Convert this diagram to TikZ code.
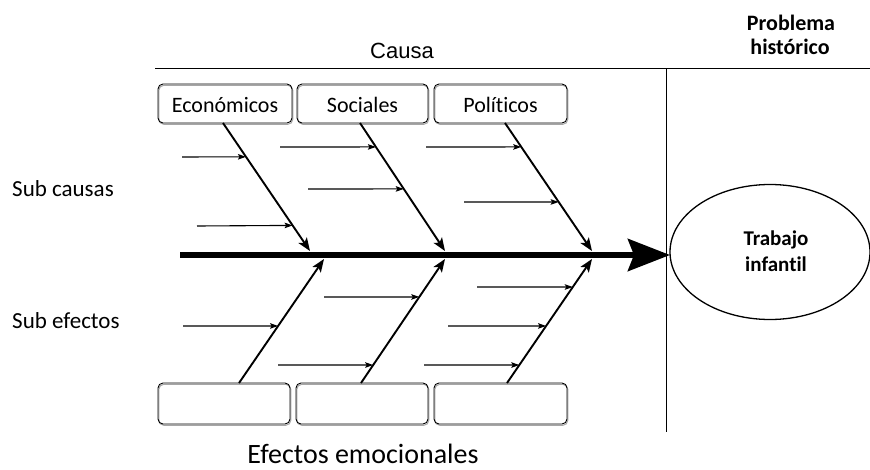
\documentclass[tikz,border=0pt]{standalone}
\usepackage{fontspec}
\setmainfont{Carlito}[Ligatures=NoCommon]
\newfontfamily\arialf{Liberation Sans}
\usetikzlibrary{arrows.meta,shapes.geometric,calc}
\begin{document}
\begin{tikzpicture}[x=1pt,y=-1pt,
  shade box/.style={preaction={draw,gray!70,line width=1pt,transform canvas={shift={(0.8pt,-1.3pt)}}}},
  catbox/.style={draw,shade box,rounded corners=5pt,line width=0.9pt,minimum height=39pt,inner sep=0pt,
     text height=18pt,text depth=1pt,font=\fontsize{22}{24}\selectfont},
  effbox/.style={draw,shade box,rounded corners=5pt,line width=0.9pt,minimum height=41pt,minimum width=132pt,inner sep=0pt},
  diag/.style={line width=1.9pt,-{Stealth[length=13pt,width=10pt,inset=3pt]}},
  subarr/.style={line width=1.1pt,-{Stealth[length=8pt,width=5.5pt,inset=1.5pt]}},
  frame/.style={line width=1pt},
  lbl/.style={font=\fontsize{23}{25}\selectfont,anchor=base west,inner sep=0pt}
]
\useasboundingbox (0,0) rectangle (870,469);
\fill[white] (0,0) rectangle (870,469);

% header
\node[font=\arialf\fontsize{22}{24}\selectfont,anchor=base,inner sep=0pt] (causa) at (402,58) {Causa};
\node[font=\bfseries\fontsize{22}{24}\selectfont,anchor=base,inner sep=0pt] (prob) at (791,30) {Problema};
\node[font=\bfseries\fontsize{22}{24}\selectfont,anchor=base,inner sep=0pt] (hist) at (790,54) {histórico};
\coordinate (tl) at (155,68);
\coordinate (tr) at (870,68);
\coordinate (vb) at (666,432);
\draw[frame] (tl) -- (tr);
\draw[frame] (tl -| vb) -- (vb);

% side labels
\node[lbl] (subc) at (12,196) {Sub causas};
\node[lbl] (sube) at (12,328) {Sub efectos};

% category boxes
\node[catbox,minimum width=134pt] (eco) at (225,103.5) {Económicos};
\node[catbox,minimum width=131pt] (soc) at (362.5,103.5) {Sociales};
\node[catbox,minimum width=133pt] (pol) at (500.5,103.5) {Políticos};

% effect boxes
\node[effbox] (ef1) at (224,403.5) {};
\node[effbox] (ef2) at (362,403.5) {};
\node[effbox,minimum width=133pt] (ef3) at (500.5,403.5) {};

\node[font=\fontsize{28}{30}\selectfont,anchor=base,inner sep=0pt] (efect) at (363,463) {Efectos emocionales};

% problem ellipse
\node[draw,ellipse,line width=1.3pt,minimum width=200pt,minimum height=135pt,inner sep=0pt] (trab) at (770,252) {};
\node[font=\bfseries\fontsize{21}{26}\selectfont,anchor=base,inner sep=0pt] (trab1) at (776,245) {Trabajo};
\node[font=\bfseries\fontsize{21}{26}\selectfont,anchor=base,inner sep=0pt] (trab2) at (776,271) {infantil};

% spine
\coordinate (sp0) at (180,255);
\coordinate (sp1) at (670,255);
\draw[line width=6pt,-{Stealth[length=42pt,width=32pt,inset=6pt]}] (sp0) -- (sp1);

% cause diagonals
\coordinate (et) at (223,123); \coordinate (ec) at (310,251);
\coordinate (st) at (360,123); \coordinate (sc) at (445,251);
\coordinate (pt) at (505,123); \coordinate (pc) at (592,251);
\draw[diag] (et) -- (ec);
\draw[diag] (st) -- (sc);
\draw[diag] (pt) -- (pc);

% effect diagonals
\coordinate (e1b) at (239,383); \coordinate (e1t) at (324,259);
\coordinate (e2b) at (361,383); \coordinate (e2t) at (445,259);
\coordinate (e3b) at (507,383); \coordinate (e3t) at (592,259);
\draw[diag] (e1b) -- (e1t);
\draw[diag] (e2b) -- (e2t);
\draw[diag] (e3b) -- (e3t);

% sub cause arrows
\coordinate (a1) at (182,157); \draw[subarr] (a1) -- ($(et)!0.264!(ec)$);
\coordinate (a2) at (197,226); \draw[subarr] (a2) -- ($(et)!0.80!(ec)$);
\coordinate (a3) at (280,147); \draw[subarr] (a3) -- ($(st)!0.187!(sc)$);
\coordinate (a4) at (308,189); \draw[subarr] (a4) -- ($(st)!0.515!(sc)$);
\coordinate (a5) at (426,147); \draw[subarr] (a5) -- ($(pt)!0.187!(pc)$);
\coordinate (a6) at (464,202); \draw[subarr] (a6) -- ($(pt)!0.617!(pc)$);

% sub effect arrows
\coordinate (b1) at (183,326); \draw[subarr] (b1) -- ($(e1b)!0.46!(e1t)$);
\coordinate (b2) at (324,297); \draw[subarr] (b2) -- ($(e2b)!0.694!(e2t)$);
\coordinate (b3) at (278,365); \draw[subarr] (b3) -- ($(e2b)!0.145!(e2t)$);
\coordinate (b4) at (477,287); \draw[subarr] (b4) -- ($(e3b)!0.774!(e3t)$);
\coordinate (b5) at (448,326); \draw[subarr] (b5) -- ($(e3b)!0.46!(e3t)$);
\coordinate (b6) at (424,365); \draw[subarr] (b6) -- ($(e3b)!0.145!(e3t)$);
\end{tikzpicture}
\end{document}
